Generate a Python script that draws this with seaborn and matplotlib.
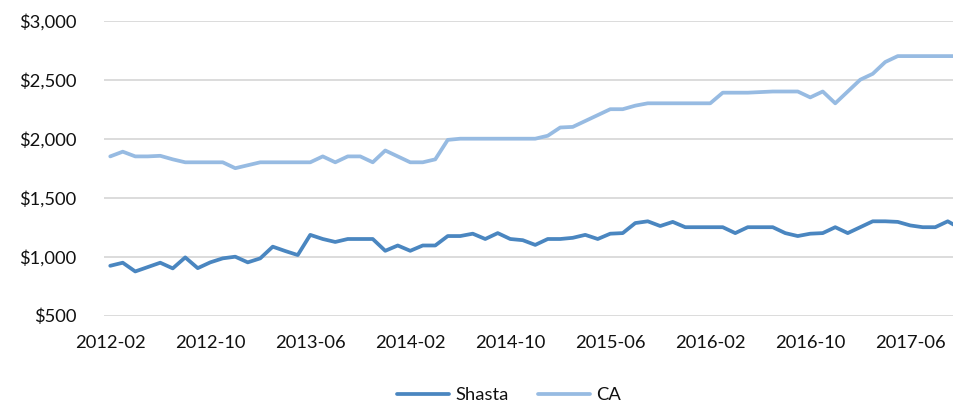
import matplotlib
matplotlib.use("Agg")
import matplotlib.pyplot as plt
import seaborn as sns
import pandas as pd
import numpy as np
from matplotlib.lines import Line2D

months = [str(p) for p in pd.period_range("2012-02", periods=69, freq="M")]

shasta = [923, 949, 875, 912, 949, 901, 994, 903, 952, 986, 1000, 952, 986, 1085, 1048, 1014, 1185,
          1150, 1125, 1150, 1150, 1150, 1050, 1095, 1050, 1095, 1095, 1175, 1175, 1195, 1150, 1200, 1150, 1140,
          1100, 1150, 1150, 1160, 1185, 1150, 1195, 1200, 1285, 1300, 1260, 1295, 1250, 1250, 1250, 1250, 1200,
          1250, 1250, 1250, 1200, 1175, 1195, 1200, 1250, 1200, 1250, 1300, 1300, 1295, 1265, 1250, 1250, 1300, 1240]

ca = [1850, 1890, 1850, 1850, 1855, 1825, 1800, 1800, 1800, 1800, 1750, 1775, 1800, 1800, 1800, 1800, 1800,
      1850, 1800, 1850, 1850, 1800, 1900, 1850, 1800, 1800, 1825, 1990, 2000, 2000, 2000, 2000, 2000, 2000,
      2000, 2025, 2095, 2100, 2150, 2200, 2250, 2250, 2280, 2300, 2300, 2300, 2300, 2300, 2300, 2390, 2390,
      2390, 2395, 2400, 2400, 2400, 2350, 2400, 2300, 2400, 2500, 2550, 2650, 2700, 2700, 2700, 2700, 2700, 2700]

series_names = ["Shasta", "CA"]
series_colors = ["#4A86C0", "#97BBE2"]
tick_labels = ["2012-02", "2012-10", "2013-06", "2014-02", "2014-10", "2015-06", "2016-02", "2016-10", "2017-06"]
y_ticks = [500, 1000, 1500, 2000, 2500, 3000]

df = pd.concat([
    pd.DataFrame({"idx": np.arange(len(months)), "month": months, "value": shasta, "series": "Shasta"}),
    pd.DataFrame({"idx": np.arange(len(months)), "month": months, "value": ca, "series": "CA"}),
])

sns.set_theme(style="white")
plt.rcParams["font.family"] = ["Lato", "DejaVu Sans"]

W, H = 954, 407
fig = plt.figure(figsize=(W / 100, H / 100), dpi=100)
ax = fig.add_axes([104 / W, 1 - 315.7 / H, (954 - 104) / W, (315.7 - 20.7) / H])

sns.lineplot(data=df, x="idx", y="value", hue="series", hue_order=series_names,
             palette=series_colors, linewidth=2.7, ax=ax, legend=False)
for ln in ax.lines:
    ln.set_solid_joinstyle("round")
    ln.set_solid_capstyle("round")

ax.set_xlim(-0.5, 67.5)
ax.set_ylim(500, 3000)
ax.set_yticks(y_ticks)
ax.set_yticklabels([f"${v:,}" for v in y_ticks])
tick_pos = [months.index(t) for t in tick_labels]
ax.set_xticks(tick_pos)
ax.set_xticklabels(tick_labels)
ax.set_xlabel("")
ax.set_ylabel("")

ax.grid(axis="y", color="#D9D9D9", linewidth=1.3)
ax.grid(axis="x", visible=False)
ax.set_axisbelow(True)
for s in ax.spines.values():
    s.set_visible(False)
ax.tick_params(axis="both", length=0, labelsize=13.2, colors="#111111")
ax.tick_params(axis="y", pad=20)
ax.tick_params(axis="x", pad=14)

handles = [Line2D([0], [0], color=c, lw=2.7) for c in series_colors]
fig.legend(handles, series_names, loc="center", bbox_to_anchor=(509 / W, 1 - 395 / H),
           ncol=2, frameon=False, fontsize=13.2, handlelength=2.85, handletextpad=0.35,
           columnspacing=1.6, labelcolor="#111111")

fig.savefig("out.png", dpi=100)
